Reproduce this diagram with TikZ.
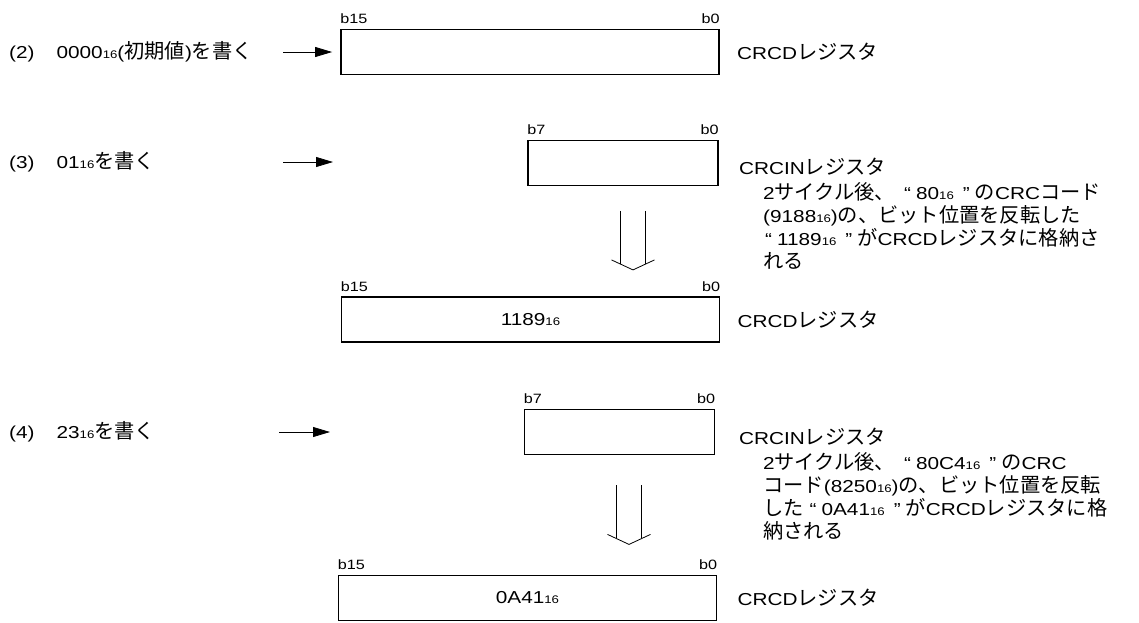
\documentclass[tikz,border=0pt]{standalone}
\usepackage{fontspec}
\setmainfont{Liberation Sans}[FakeStretch=1.2]
\newfontfamily\jpfont{Noto Sans CJK JP}[Scale=1.17]
\usetikzlibrary{positioning, arrows.meta}

\newcommand{\jp}[1]{{\jpfont #1}}
\newcommand{\hexa}[1]{#1{\fontsize{11}{11}\selectfont 16}}
\newcommand{\openq}{\hspace{9pt}“\hspace{5pt}}
\newcommand{\closeq}{\hspace{9pt}”\hspace{5pt}}

\tikzset{
    downarrow/.pic={
        \draw[line width=0.8pt] (-12.5,0) -- (-12.5,53) (12.5,0) -- (12.5,53);
        \draw[line width=0.8pt] (-21.5,49) -- (0,59) -- (21.5,49);
    }
}

\begin{document}
\begin{tikzpicture}[
    x=1pt, y=-1pt,
    every node/.style={inner sep=0pt, font=\fontsize{17.3}{23}\selectfont},
    regwide/.style={draw, line width=1.8pt, minimum width=378pt, minimum height=45pt},
    regnarrow/.style={draw, line width=1.8pt, minimum width=190pt, minimum height=45pt},
    bit/.style={font=\fontsize{13.5}{13.5}\selectfont},
    feed/.style={-{Triangle[length=17pt, width=10pt]}, line width=0.8pt},
    note/.style={align=left, anchor=north west}
]
\useasboundingbox (0,0) rectangle (1139,622);

% Registers
\node[regwide] (crcd1) at (530,52) {};
\node[regnarrow] (crcin1) at (623,163) {};
\node[regwide] (crcd2) at (530.5,319.5) {\hexa{1189}};
\node[regnarrow] (crcin2) at (619.5,432) {};
\node[regwide] (crcd3) at (527.5,598) {\hexa{0A41}};

% Bit numbers
\node[bit, above right=4.5pt and 0pt of crcd1.north west] {b15};
\node[bit, above left=4.5pt and 0pt of crcd1.north east] {b0};
\node[bit, above right=4.5pt and 0pt of crcin1.north west] {b7};
\node[bit, above left=4.5pt and 0pt of crcin1.north east] {b0};
\node[bit, above right=4.5pt and 0pt of crcd2.north west] {b15};
\node[bit, above left=4.5pt and 0pt of crcd2.north east] {b0};
\node[bit, above right=4.5pt and 0pt of crcin2.north west] {b7};
\node[bit, above left=4.5pt and 0pt of crcin2.north east] {b0};
\node[bit, above right=4.5pt and 0pt of crcd3.north west] {b15};
\node[bit, above left=4.5pt and 0pt of crcd3.north east] {b0};

% Register names
\node[right=17pt of crcd1] (name1) {CRCD\jp{レジスタ}};
\node[anchor=west] (name2) at (739,167) {CRCIN\jp{レジスタ}};
\node[right=17pt of crcd2] (name3) {CRCD\jp{レジスタ}};
\node[anchor=west] (name4) at (739,437) {CRCIN\jp{レジスタ}};
\node[right=20pt of crcd3] (name5) {CRCD\jp{レジスタ}};

% Notes
\node[note] (note3) at (763,182) {2\jp{サイクル後、}\openq\hexa{80}\closeq\jp{の}CRC\jp{コード}\\
    (\hexa{9188})\jp{の、ビット位置を反転した}\\
    \hspace{2pt}“\hspace{5pt}\hexa{1189}\closeq\jp{が}CRCD\jp{レジスタに格納さ}\\
    \jp{れる}};
\node[note] (note4) at (763,452) {2\jp{サイクル後、}\openq\hexa{80C4}\closeq\jp{の}CRC\\
    \jp{コード}(\hexa{8250})\jp{の、ビット位置を反転}\\
    \jp{した}\hspace{6pt}“\hspace{5pt}\hexa{0A41}\closeq\jp{が}CRCD\jp{レジスタに格}\\
    \jp{納される}};

% Steps
\node[anchor=west] (step2) at (9,52) {(2)\hspace{22pt}\hexa{0000}(\jp{初期値})\jp{を書く}};
\node[anchor=west] (step3) at (9,162) {(3)\hspace{22pt}\hexa{01}\jp{を書く}};
\node[anchor=west] (step4) at (9,432) {(4)\hspace{22pt}\hexa{23}\jp{を書く}};

% Write arrows
\coordinate (in2) at (283,52);
\coordinate (in3) at (283,162);
\coordinate (out3) at (333,162);
\coordinate (in4) at (279,432);
\coordinate (out4) at (330,432);
\draw[feed] (in2) -- ([xshift=-8pt]crcd1.west);
\draw[feed] (in3) -- (out3);
\draw[feed] (in4) -- (out4);

% Transfers
\pic at ([xshift=10pt, yshift=-24.5pt]crcin1.south) {downarrow};
\pic at ([xshift=9.5pt, yshift=-30pt]crcin2.south) {downarrow};

\end{tikzpicture}
\end{document}
